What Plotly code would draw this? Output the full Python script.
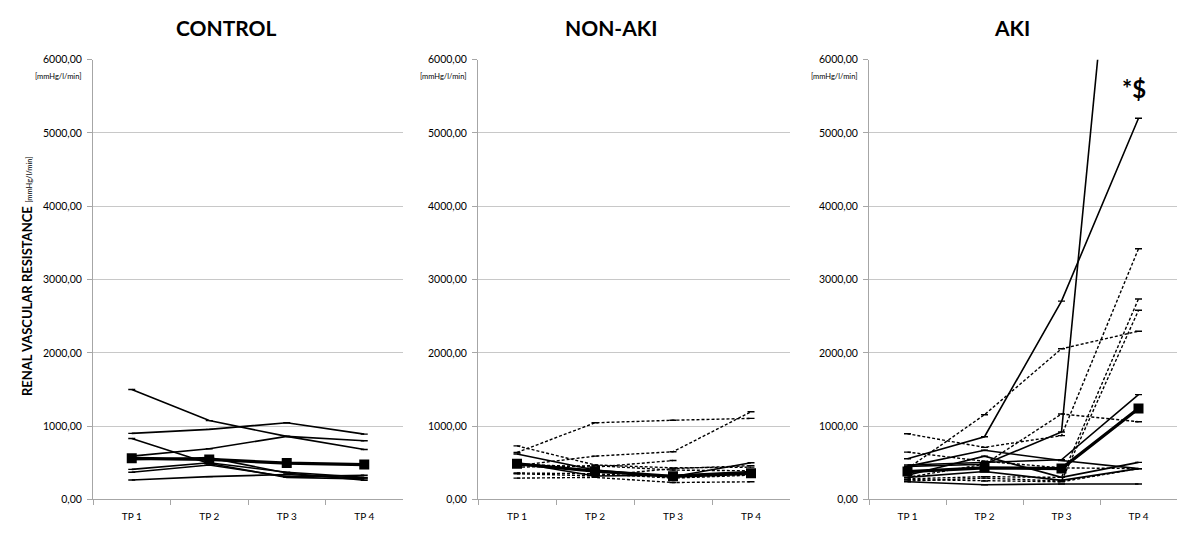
import plotly.graph_objects as go

# ---------------- data ----------------
timepoints = ["TP 1", "TP 2", "TP 3", "TP 4"]
y_tick_values = [0, 1000, 2000, 3000, 4000, 5000, 6000]
y_tick_labels = ["0,00", "1000,00", "2000,00", "3000,00", "4000,00", "5000,00", "6000,00"]
panel_titles = ["CONTROL", "NON-AKI", "AKI"]

control_solid = [
    [1500, 1075, 860, 680],
    [900, 955, 1045, 890],
    [830, 490, 300, 280],
    [590, 690, 860, 800],
    [410, 500, 370, 300],
    [370, 470, 310, 330],
    [265, 310, 340, 290],
    [540, 570, 360, 260],
]
control_dashed = []
control_mean = [560, 545, 495, 475]

nonaki_dashed = [
    [640, 1045, 1080, 1105],
    [460, 590, 650, 1195],
    [730, 470, 430, 440],
    [480, 440, 530, None],
    [350, 320, 420, 460],
    [290, 300, 230, 240],
    [440, 460, 400, 390],
    [360, 350, 290, 330],
]
nonaki_solid = [
    [620, 400, 310, 500],
    [500, 320, 330, 380],
]
nonaki_mean = [485, 385, 315, 355]

aki_solid = [
    [450, 480, 920, 11750],
    [555, 855, 2705, 5200],
    [470, 500, 540, 1430],
    [450, 670, 530, 420],
    [330, 590, 300, 505],
    [240, 200, 210, 210],
    [300, 380, 260, 420],
]
aki_dashed = [
    [420, 1155, 2055, 2295],
    [895, 710, 870, 3420],
    [300, 480, 1165, 1060],
    [280, 310, 300, 2735],
    [250, 290, 250, 2580],
    [645, 520, 430, 420],
    [270, 250, 240, 420],
]
aki_mean = [380, 430, 420, 1240]

# ---------------- figure ----------------
FONT = "Lato"
W, H = 1200, 560
# the rendered page maps figure pixels to screen pixels roughly as
# x_screen = x + 8 and y_screen = 0.977 * y + 13.4; positions below are
# expressed in target screen pixels and converted.
def px_x(x):
    return (x - 8) / W


def px_y(y):
    return 1 - ((y - 13.4) / 0.977) / H


fig = go.Figure()

panels = [
    ("x", "y", control_solid, control_dashed, control_mean),
    ("x2", "y2", nonaki_solid, nonaki_dashed, nonaki_mean),
    ("x3", "y3", aki_solid, aki_dashed, aki_mean),
]

for xa, ya, solids, dasheds, mean in panels:
    for series in dasheds:
        fig.add_trace(go.Scatter(
            x=timepoints, y=series, xaxis=xa, yaxis=ya, mode="lines+markers",
            line=dict(color="black", width=1.4, dash="3px,2px"),
            marker=dict(symbol="line-ew", size=5, line=dict(color="black", width=1.4)),
            showlegend=False, hoverinfo="skip", connectgaps=False,
        ))
    for series in solids:
        fig.add_trace(go.Scatter(
            x=timepoints, y=series, xaxis=xa, yaxis=ya, mode="lines+markers",
            line=dict(color="black", width=1.6),
            marker=dict(symbol="line-ew", size=5, line=dict(color="black", width=1.4)),
            showlegend=False, hoverinfo="skip",
        ))
    fig.add_trace(go.Scatter(
        x=timepoints, y=mean, xaxis=xa, yaxis=ya, mode="lines+markers",
        line=dict(color="black", width=3.2),
        marker=dict(symbol="square", size=10, color="black"),
        showlegend=False, hoverinfo="skip",
    ))

x_domains = [(px_x(93), px_x(403)), (px_x(478), px_x(790)), (px_x(869), px_x(1177))]
y_domain = (px_y(498), px_y(59))

axis_common_x = dict(
    type="category", range=[-0.5, 3.5], showline=True, linecolor="#a6a6a6", linewidth=1,
    ticks="outside", tickson="boundaries", ticklen=5, tickcolor="#a6a6a6",
    showgrid=False, zeroline=False, fixedrange=True,
    tickfont=dict(family=FONT, size=10, color="black"), ticklabelstandoff=8,
)
axis_common_y = dict(
    range=[0, 6000], tickvals=y_tick_values, ticktext=y_tick_labels,
    showline=True, linecolor="#a6a6a6", linewidth=1, showgrid=True,
    gridcolor="#c8c8c8", gridwidth=1, zeroline=False,
    ticks="outside", ticklen=5, tickcolor="#a6a6a6", fixedrange=True,
    tickfont=dict(family=FONT, size=10.5, color="black"), ticklabelstandoff=3,
    domain=list(y_domain),
)

layout_axes = {}
for i, dom in enumerate(x_domains):
    sfx = "" if i == 0 else str(i + 1)
    layout_axes["xaxis" + sfx] = dict(axis_common_x, domain=list(dom), anchor="y" + sfx)
    layout_axes["yaxis" + sfx] = dict(axis_common_y, anchor="x" + sfx)

fig.update_layout(
    width=W, height=H, autosize=False,
    margin=dict(l=0, r=0, t=0, b=0),
    paper_bgcolor="white", plot_bgcolor="white",
    font=dict(family=FONT, color="black"),
    **layout_axes,
)

annotations = []
title_x = [226, 611, 1012]
for t, xc in zip(panel_titles, title_x):
    annotations.append(dict(
        text="<b>%s</b>" % t, x=px_x(xc), y=px_y(27), xref="paper", yref="paper",
        showarrow=False, xanchor="center", yanchor="middle",
        font=dict(family=FONT, size=21, color="black"),
    ))

unit_right = [83, 468, 859]
for xr in unit_right:
    annotations.append(dict(
        text="[mmHg/l/min]", x=px_x(xr), y=px_y(76), xref="paper", yref="paper",
        showarrow=False, xanchor="right", yanchor="middle",
        font=dict(family=FONT, size=7.5, color="black"),
    ))

annotations.append(dict(
    text="<b>RENAL VASCULAR RESISTANCE</b> <span style='font-size:7.5px'>[mmHg/l/min]</span>",
    x=px_x(27), y=px_y(275), xref="paper", yref="paper", textangle=-90,
    showarrow=False, xanchor="center", yanchor="middle",
    font=dict(family=FONT, size=13, color="black"),
))

annotations.append(dict(
    text="<b>*$</b>", x=px_x(1134), y=px_y(88), xref="paper", yref="paper",
    showarrow=False, xanchor="center", yanchor="middle",
    font=dict(family=FONT, size=24, color="black"),
))

fig.update_layout(annotations=annotations)

fig.write_html("out.html")
